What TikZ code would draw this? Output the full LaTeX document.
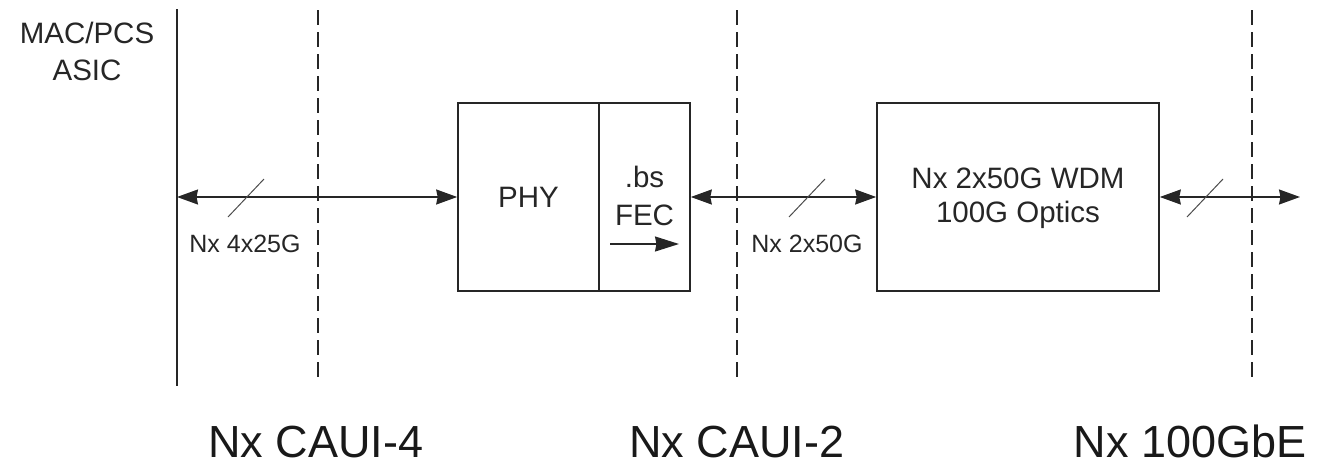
\documentclass[tikz,border=0pt]{standalone}
\usepackage{fontspec}
\setmainfont{Liberation Sans}
\usetikzlibrary{arrows.meta}
\begin{document}
\begin{tikzpicture}[x=1pt,y=-1pt,
  ink/.style={black!85},
  solidline/.style={ink, line width=1.6pt},
  dashline/.style={ink, line width=1.6pt, dash pattern=on 15pt off 7pt},
  blockbox/.style={draw=black!85, line width=1.6pt, inner sep=0pt, minimum height=188pt},
  link/.style={ink, line width=1.6pt, {Stealth[length=21pt,width=15pt,inset=1.5pt]}-{Stealth[length=21pt,width=15pt,inset=1.5pt]}},
  oneway/.style={ink, line width=1.6pt, -{Stealth[length=24pt,width=15pt,inset=1.5pt]}},
  slashline/.style={black!70, line width=1pt},
  smalltxt/.style={text=black!85, font=\fontsize{25}{29}\selectfont, inner sep=0pt, anchor=base},
  midtxt/.style={text=black!85, font=\fontsize{29.5}{36}\selectfont, inner sep=0pt, anchor=base},
  bigtxt/.style={text=black!90, font=\fontsize{45}{54}\selectfont, inner sep=0pt, anchor=base, text depth=0pt}
]
\useasboundingbox (0,0) rectangle (1326,461);

% vertical boundary lines
\coordinate (s1) at (177,9);   \coordinate (s2) at (177,386);
\coordinate (d1a) at (318,10); \coordinate (d1b) at (318,378);
\coordinate (d2a) at (737,10); \coordinate (d2b) at (737,378);
\coordinate (d3a) at (1252,10); \coordinate (d3b) at (1252,378);
\draw[solidline] (s1) -- (s2);
\draw[dashline] (d1a) -- (d1b);
\draw[dashline] (d2a) -- (d2b);
\draw[dashline] (d3a) -- (d3b);

% blocks
\node[blockbox, minimum width=141pt] (phy) at (528.5,197) {};
\node[blockbox, minimum width=91pt] (fec) at (644.5,197) {};
\node[blockbox, minimum width=282pt] (optics) at (1018,197) {};

% block texts
\node[midtxt] (phyt) at (528.5,207) {PHY};
\node[midtxt] (bst) at (644.5,187) {.bs};
\node[midtxt] (fect) at (644.5,225) {FEC};
\node[midtxt] (opt1) at (1018,188) {Nx 2x50G WDM};
\node[midtxt] (opt2) at (1018,222) {100G Optics};
\node[midtxt] (asic1) at (87,43) {MAC/PCS};
\node[midtxt] (asic2) at (87,80) {ASIC};

% FEC direction arrow
\coordinate (fa1) at (610,244);
\coordinate (fa2) at (679,244);
\draw[oneway] (fa1) -- (fa2);

% links
\coordinate (asicport) at (177,197);
\coordinate (lineport) at (1300,197);
\draw[link] (asicport) -- (phy.west);
\draw[link] (fec.east) -- (optics.west);
\draw[link] (optics.east) -- (lineport);

% bus slashes
\coordinate (sl1a) at (228,217); \coordinate (sl1b) at (264,179);
\coordinate (sl2a) at (789,217); \coordinate (sl2b) at (825,179);
\coordinate (sl3a) at (1187,217); \coordinate (sl3b) at (1223,179);
\draw[slashline] (sl1a) -- (sl1b);
\draw[slashline] (sl2a) -- (sl2b);
\draw[slashline] (sl3a) -- (sl3b);

% link labels
\node[smalltxt] (lab1) at (245,252) {Nx 4x25G};
\node[smalltxt] (lab2) at (807,252) {Nx 2x50G};

% interface labels
\node[bigtxt] (if1) at (316,457) {Nx CAUI-4};
\node[bigtxt] (if2) at (737,457) {Nx CAUI-2};
\node[bigtxt] (if3) at (1190,457) {Nx 100GbE};
\end{tikzpicture}
\end{document}
